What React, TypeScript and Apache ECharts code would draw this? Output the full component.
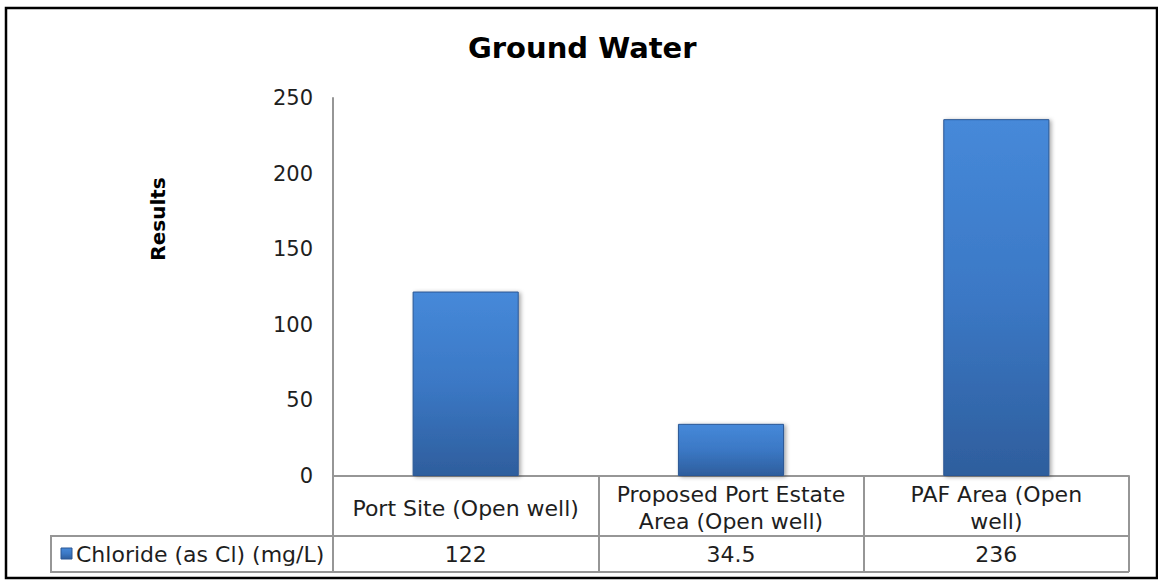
import React, { useEffect, useRef } from "react";
import * as echarts from "echarts";

const chartTitle = "Ground Water";
const yAxisTitle = "Results";
const seriesName = "Chloride (as Cl) (mg/L)";
const categories = ["Port Site (Open well)", "Proposed Port Estate Area (Open well)", "PAF Area (Open well)"];
const categoryLabels = ["Port Site (Open well)", "Proposed Port Estate\nArea (Open well)", "PAF Area (Open\nwell)"];
const chlorideValues = [122, 34.5, 236];
const valueLabels = ["122", "34.5", "236"];
const yTicks = { min: 0, max: 250, interval: 50 };

const W = 1158;
const H = 580;
const GRID = { left: 333, right: 29, top: 98, bottom: 104 };
const FONT = "Verdana, 'DejaVu Sans', sans-serif";
const LINE = "#969696";
const TEXT = "#1e1e1e";

const barFill = () =>
  new echarts.graphic.LinearGradient(0, 0, 0, 1, [
    { offset: 0, color: "#4689d9" },
    { offset: 0.5, color: "#3b78c5" },
    { offset: 1, color: "#2e5e9d" },
  ]);

export default function App() {
  const ref = useRef<HTMLDivElement>(null);
  useEffect(() => {
    document.body.style.margin = "0";
    const chart = echarts.init(ref.current!, null, { renderer: "svg", width: W, height: H });
    const plotRight = W - GRID.right;
    const axisY = H - GRID.bottom;
    const row1Bottom = axisY + 60;
    const row2Bottom = row1Bottom + 36;
    chart.setOption({
      animation: false,
      backgroundColor: "#ffffff",
      title: {
        text: chartTitle,
        left: 463,
        top: 28,
        textStyle: { fontFamily: FONT, fontSize: 29, fontWeight: "bold", color: "#000" },
      },
      grid: { left: GRID.left, right: GRID.right, top: GRID.top, bottom: GRID.bottom, containLabel: false },
      xAxis: [
        {
          type: "category",
          data: categories,
          position: "bottom",
          boundaryGap: true,
          axisLine: { show: true, lineStyle: { color: LINE, width: 2 } },
          axisTick: { show: true, length: 60, interval: 0, alignWithLabel: false, lineStyle: { color: LINE, width: 2 } },
          axisLabel: {
            interval: 0,
            margin: 32,
            verticalAlign: "middle",
            align: "center",
            lineHeight: 27,
            fontFamily: FONT,
            fontSize: 22,
            color: TEXT,
            formatter: (_v: string, i: number) => categoryLabels[i],
          },
        },
        {
          type: "category",
          data: valueLabels,
          position: "bottom",
          offset: 60,
          boundaryGap: true,
          axisLine: { show: true, lineStyle: { color: LINE, width: 2 } },
          axisTick: { show: true, length: 36, interval: 0, alignWithLabel: false, lineStyle: { color: LINE, width: 2 } },
          axisLabel: {
            interval: 0,
            margin: 18,
            verticalAlign: "middle",
            fontFamily: FONT,
            fontSize: 22,
            color: TEXT,
          },
        },
      ],
      yAxis: {
        type: "value",
        min: yTicks.min,
        max: yTicks.max,
        interval: yTicks.interval,
        splitLine: { show: false },
        axisLine: { show: true, lineStyle: { color: LINE, width: 2 } },
        axisTick: { show: false },
        axisLabel: { margin: 20, fontFamily: FONT, fontSize: 21, color: TEXT },
      },
      series: [
        {
          type: "bar",
          name: seriesName,
          data: chlorideValues,
          xAxisIndex: 0,
          barWidth: "40%",
          itemStyle: {
            color: barFill(),
            borderColor: "#2b5794",
            borderWidth: 1,
            shadowColor: "rgba(0,0,0,0.35)",
            shadowBlur: 4,
            shadowOffsetX: 2,
            shadowOffsetY: 1,
          },
        },
      ],
      graphic: [
        {
          type: "rect",
          shape: { x: 6, y: 8, width: W - 7, height: H - 10 },
          style: { fill: "none", stroke: "#000", lineWidth: 2.5 },
          silent: true,
        },
        {
          type: "text",
          x: 158,
          y: 219,
          rotation: Math.PI / 2,
          style: {
            text: yAxisTitle,
            fontFamily: FONT,
            fontSize: 20,
            fontWeight: "bold",
            fill: "#000",
            align: "center",
            verticalAlign: "middle",
          },
        },
        {
          type: "line",
          shape: { x1: GRID.left, y1: axisY, x2: GRID.left, y2: row2Bottom },
          style: { stroke: LINE, lineWidth: 2 },
        },
        {
          type: "line",
          shape: { x1: GRID.left, y1: row2Bottom, x2: plotRight, y2: row2Bottom },
          style: { stroke: LINE, lineWidth: 2 },
        },
        {
          type: "rect",
          shape: { x: 51, y: row1Bottom, width: GRID.left - 51, height: row2Bottom - row1Bottom },
          style: { fill: "none", stroke: LINE, lineWidth: 2 },
        },
        {
          type: "rect",
          shape: { x: 61, y: row1Bottom + 12, width: 11, height: 11 },
          style: { fill: barFill(), stroke: "#2b5794", lineWidth: 1 },
        },
        {
          type: "text",
          x: 76,
          y: row1Bottom + 18,
          style: {
            text: seriesName,
            fontFamily: FONT,
            fontSize: 22,
            fill: TEXT,
            align: "left",
            verticalAlign: "middle",
          },
        },
      ],
    });
    return () => chart.dispose();
  }, []);
  return <div ref={ref} style={{ width: W, height: H }} />;
}
